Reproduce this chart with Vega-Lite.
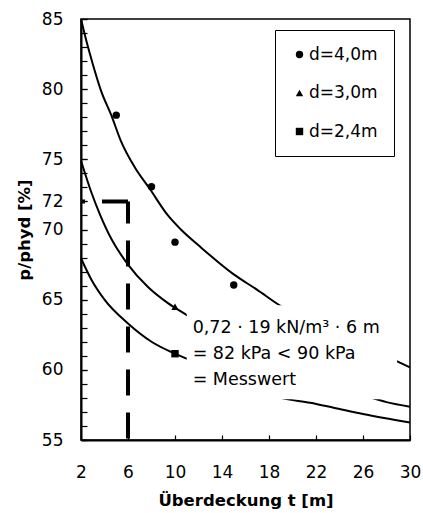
{
  "$schema": "https://vega.github.io/schema/vega-lite/v6.json",
  "width": 329,
  "height": 421,
  "autosize": {"type": "none"},
  "padding": {"left": 81, "top": 19, "right": 13, "bottom": 73},
  "background": "white",
  "config": {
    "font": "DejaVu Sans",
    "view": {"stroke": "#000", "strokeWidth": 1.5},
    "axis": {
      "grid": false,
      "domainColor": "#000",
      "domainWidth": 2,
      "tickColor": "#000",
      "tickWidth": 1.2,
      "labelColor": "#000",
      "titleColor": "#000",
      "labelFont": "DejaVu Sans",
      "titleFont": "DejaVu Sans",
      "labelFontSize": 17,
      "titleFontSize": 16.5,
      "titleFontWeight": "bold",
      "labelFlush": false,
      "labelOverlap": false,
      "labelBound": false
    }
  },
  "resolve": {"axis": {"y": "independent"}},
  "datasets": {
    "curves": [
      {"series": "d=4,0m", "t": 2, "p": 85.0},
      {"series": "d=4,0m", "t": 2.5, "p": 83.3},
      {"series": "d=4,0m", "t": 3, "p": 81.8},
      {"series": "d=4,0m", "t": 3.7, "p": 79.9},
      {"series": "d=4,0m", "t": 4.6, "p": 78.1},
      {"series": "d=4,0m", "t": 5.4, "p": 76.3},
      {"series": "d=4,0m", "t": 6.6, "p": 74.4},
      {"series": "d=4,0m", "t": 7.85, "p": 72.9},
      {"series": "d=4,0m", "t": 9.4, "p": 71.0},
      {"series": "d=4,0m", "t": 10.5, "p": 70.0},
      {"series": "d=4,0m", "t": 12.1, "p": 68.8},
      {"series": "d=4,0m", "t": 15, "p": 66.8},
      {"series": "d=4,0m", "t": 17, "p": 65.7},
      {"series": "d=4,0m", "t": 18.9, "p": 64.6},
      {"series": "d=4,0m", "t": 22, "p": 63.2},
      {"series": "d=4,0m", "t": 25, "p": 62.0},
      {"series": "d=4,0m", "t": 29, "p": 60.57},
      {"series": "d=4,0m", "t": 30, "p": 60.17},
      {"series": "d=3,0m", "t": 2, "p": 74.9},
      {"series": "d=3,0m", "t": 2.9, "p": 72.6},
      {"series": "d=3,0m", "t": 3.6, "p": 71.1},
      {"series": "d=3,0m", "t": 4.6, "p": 69.3},
      {"series": "d=3,0m", "t": 6, "p": 67.5},
      {"series": "d=3,0m", "t": 7.7, "p": 65.9},
      {"series": "d=3,0m", "t": 9.4, "p": 64.75},
      {"series": "d=3,0m", "t": 11, "p": 63.9},
      {"series": "d=3,0m", "t": 14, "p": 62.3},
      {"series": "d=3,0m", "t": 18, "p": 60.5},
      {"series": "d=3,0m", "t": 22, "p": 59.2},
      {"series": "d=3,0m", "t": 26, "p": 58.2},
      {"series": "d=3,0m", "t": 28, "p": 57.7},
      {"series": "d=3,0m", "t": 30, "p": 57.37},
      {"series": "d=2,4m", "t": 2, "p": 67.95},
      {"series": "d=2,4m", "t": 2.9, "p": 66.4},
      {"series": "d=2,4m", "t": 4, "p": 65.0},
      {"series": "d=2,4m", "t": 6, "p": 63.3},
      {"series": "d=2,4m", "t": 8, "p": 62.0},
      {"series": "d=2,4m", "t": 10, "p": 61.15},
      {"series": "d=2,4m", "t": 11, "p": 60.8},
      {"series": "d=2,4m", "t": 13, "p": 60.05},
      {"series": "d=2,4m", "t": 16, "p": 58.9},
      {"series": "d=2,4m", "t": 19, "p": 58.0},
      {"series": "d=2,4m", "t": 21.5, "p": 57.65},
      {"series": "d=2,4m", "t": 23.5, "p": 57.3},
      {"series": "d=2,4m", "t": 26, "p": 56.85},
      {"series": "d=2,4m", "t": 30, "p": 56.25}
    ],
    "points": [
      {"series": "d=4,0m", "t": 5, "p": 78.15},
      {"series": "d=4,0m", "t": 8, "p": 73.05},
      {"series": "d=4,0m", "t": 10, "p": 69.1},
      {"series": "d=4,0m", "t": 15, "p": 66.05},
      {"series": "d=3,0m", "t": 10, "p": 64.5},
      {"series": "d=2,4m", "t": 10, "p": 61.15}
    ],
    "ref": [
      {"t": 6, "p": 72, "t2": 2, "p2": 72},
      {"t": 6, "p": 72, "t2": 6, "p2": 55}
    ]
  },
  "layer": [
    {
      "data": {"name": "curves"},
      "mark": {"type": "line", "color": "#000", "strokeWidth": 2, "interpolate": "monotone"},
      "encoding": {
        "x": {
          "field": "t", "type": "quantitative",
          "scale": {"domain": [2, 30], "nice": false, "zero": false},
          "axis": {
            "values": [2,3,4,5,6,7,8,9,10,11,12,13,14,15,16,17,18,19,20,21,22,23,24,25,26,27,28,29,30],
            "labelExpr": "(datum.value - 2) % 4 == 0 ? datum.label : ''",
            "labelOverlap": false,
            "tickSize": -5,
            "labelPadding": 29,
            "title": "Überdeckung t [m]",
            "titlePadding": 12
          }
        },
        "y": {
          "field": "p", "type": "quantitative",
          "scale": {"domain": [55, 85], "nice": false, "zero": false},
          "axis": {
            "orient": "left",
            "values": [55, 60, 65, 70, 72, 75, 80, 85],
            "labelOverlap": false,
            "tickSize": -6,
            "labelPadding": 24,
            "title": "p/phyd [%]",
            "titlePadding": 9
          }
        },
        "detail": {"field": "series"}
      }
    },
    {
      "data": {"values": [{}]},
      "mark": {"type": "rect", "fill": "white"},
      "encoding": {
        "x": {"datum": 11.0, "type": "quantitative"},
        "x2": {"datum": 28.9},
        "y": {"datum": 64.6, "type": "quantitative", "axis": null},
        "y2": {"datum": 57.9}
      }
    },
    {
      "data": {"values": [{}]},
      "mark": {
        "type": "text",
        "text": ["0,72 · 19 kN/m³ · 6 m", "= 82 kPa < 90 kPa", "= Messwert"],
        "align": "left",
        "baseline": "alphabetic",
        "fontSize": 17.5,
        "lineHeight": 26,
        "color": "#000",
        "font": "DejaVu Sans"
      },
      "encoding": {
        "x": {"datum": 11.5, "type": "quantitative"},
        "y": {"datum": 62.62, "type": "quantitative", "axis": null}
      }
    },
    {
      "data": {"name": "ref"},
      "transform": [{"filter": "datum.p == datum.p2"}],
      "mark": {"type": "rule", "color": "#000", "strokeWidth": 4, "strokeDash": [26, 17], "strokeDashOffset": 0},
      "encoding": {
        "x": {"field": "t", "type": "quantitative"},
        "y": {"field": "p", "type": "quantitative", "axis": null},
        "x2": {"field": "t2"},
        "y2": {"field": "p2"}
      }
    },
    {
      "data": {"name": "ref"},
      "transform": [{"filter": "datum.t == datum.t2"}],
      "mark": {"type": "rule", "color": "#000", "strokeWidth": 4, "strokeDash": [26, 17], "strokeDashOffset": 4},
      "encoding": {
        "x": {"field": "t", "type": "quantitative"},
        "y": {"field": "p", "type": "quantitative", "axis": null},
        "x2": {"field": "t2"},
        "y2": {"field": "p2"}
      }
    },
    {
      "data": {"name": "points"},
      "mark": {"type": "point", "filled": true, "color": "#000", "size": 55, "opacity": 1},
      "encoding": {
        "x": {"field": "t", "type": "quantitative"},
        "y": {
          "field": "p", "type": "quantitative",
          "axis": {
            "orient": "left",
            "values": [55,56,57,58,59,60,61,62,63,64,65,66,67,68,69,70,71,72,73,74,75,76,77,78,79,80,81,82,83,84,85],
            "labels": false,
            "domain": false,
            "tickSize": -6,
            "title": null
          }
        },
        "shape": {
          "field": "series", "type": "nominal",
          "scale": {"domain": ["d=4,0m", "d=3,0m", "d=2,4m"], "range": ["circle", "triangle-up", "square"]},
          "legend": {
            "title": null,
            "orient": "none",
            "legendX": 194,
            "legendY": 11,
            "padding": 16,
            "strokeColor": "#000",
            "fillColor": "white",
            "labelFont": "DejaVu Sans",
            "labelFontSize": 17,
            "labelColor": "#000",
            "rowPadding": 20.5,
            "labelOffset": 1,
            "symbolSize": 55
          }
        }
      }
    }
  ]
}
